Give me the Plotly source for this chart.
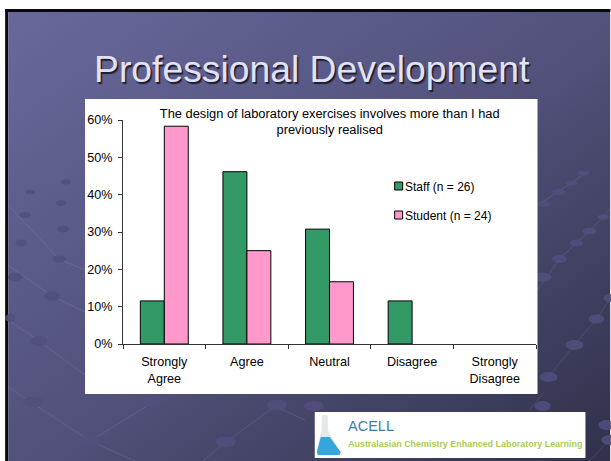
import base64
import plotly.graph_objects as go

# ---- data ----
categories = ["Strongly<br>Agree", "Agree", "Neutral", "Disagree", "Strongly<br>Disagree"]
staff_pct = [11.54, 46.15, 30.77, 11.54, 0]
student_pct = [58.33, 25, 16.67, 0, 0]
staff_name = "Staff (n = 26)"
student_name = "Student (n = 24)"
y_ticks = [0, 10, 20, 30, 40, 50, 60]
y_labels = ["0%", "10%", "20%", "30%", "40%", "50%", "60%"]
slide_title = "Professional Development"
chart_title = "The design of laboratory exercises involves more than I had<br>previously realised"
logo_name = "ACELL"
logo_sub = "Australasian Chemistry Enhanced Laboratory Learning"

W, H = 611, 461
L, R, T, B = 123.0, 536.5, 120.0, 344.0
GREEN, PINK = "#339966", "#FF99CC"
FONT = "Liberation Sans, Arial, sans-serif"

def X(px):
    return (px - L) / (R - L)

def Y(py):
    return (B - py) / (B - T)

shapes, annos = [], []

def rect(x0, y0, x1, y1, fill, line=None, layer="below"):
    shapes.append(dict(type="rect", xref="paper", yref="paper", x0=X(x0), x1=X(x1), y0=Y(y0), y1=Y(y1),
                       fillcolor=fill, line=dict(color=line or fill, width=1 if line else 0), layer=layer))

def text(px, py, s, size, color, anchor="left", family=FONT, shadow=None, weight=None):
    f = dict(size=size, color=color, family=family)
    if shadow:
        f["shadow"] = shadow
    if weight:
        f["weight"] = weight
    annos.append(dict(xref="paper", yref="paper", x=X(px), y=Y(py), text=s, showarrow=False, xanchor=anchor,
                      yanchor="middle", font=f, borderpad=0, borderwidth=0))

# slide frame (left and top edges)
rect(5, 9, 8, 461, "#08080f")
rect(5, 9, 611, 12, "#08080f")

# decorative background network
net_lines = [
    [(8, 387), (90, 441), (135, 461)], [(152, 403), (90, 441)], [(277, 405), (226, 442), (203, 461)],
    [(277, 407), (305, 420)], [(549, 377), (575, 345), (597, 319), (611, 298)],
    [(538, 290), (560, 259), (577, 243), (590, 231), (604, 217), (611, 208)], [(538, 205), (572, 183), (590, 170)],
    [(8, 320), (39, 341), (85, 375)], [(8, 265), (52, 296), (85, 312)], [(8, 205), (59, 259), (85, 270)],
    [(544, 393), (530, 410)], [(610, 440), (590, 461)],
]
for ln in net_lines:
    d = "M" + "L".join(f"{X(a):.5f},{Y(b):.5f}" for a, b in ln)
    shapes.append(dict(type="path", xref="paper", yref="paper", path=d, layer="below",
                       line=dict(color="rgba(200,200,235,0.13)", width=1)))

dots = [
    (33, 402, 10, 5.5), (152, 402, 10, 5.5), (277, 405, 10, 5.5), (90, 441, 10, 5.5), (226, 442, 10, 5.5),
    (314, 406, 10, 5), (543, 406, 8, 5), (607, 425, 8, 5), (584, 173, 6, 2.5), (572, 183, 6, 2.5), (559, 192, 6.5, 3),
    (544, 204, 7, 3), (604, 217, 6, 3), (590, 231, 7, 3.5), (577, 243, 7, 3.5), (560, 259, 7.5, 4), (543, 277, 9, 4.5),
    (610, 298, 6, 4), (597, 319, 8, 4.5), (575, 345, 9, 5), (549, 377, 9, 5), (610, 440, 8, 5),
    (39, 341, 8, 5), (52, 296, 8, 4.5), (15, 277, 7, 4.5), (59, 259, 7, 3.5), (21, 243, 6, 3.5), (63, 229, 6, 3.5),
    (25, 215, 6, 3), (61, 203, 5, 3), (30, 192, 5, 2.5), (66, 182, 5, 2.5), (10, 318, 5, 4),
]
for cx, cy, rx, ry in dots:
    shapes.append(dict(type="circle", xref="paper", yref="paper", x0=X(cx - rx), x1=X(cx + rx), y0=Y(cy + ry), y1=Y(cy - ry),
                       fillcolor="#50507e", opacity=0.85, line=dict(width=0), layer="below"))

# chart panel and logo panel
rect(85, 99, 538, 394, "#ffffff")
rect(315, 412, 586, 458, "#ffffff")

# flask in logo
def poly(points, fill):
    d = "M" + "L".join(f"{X(a):.5f},{Y(b):.5f}" for a, b in points) + "Z"
    shapes.append(dict(type="path", xref="paper", yref="paper", path=d, fillcolor=fill, line=dict(width=0), layer="below"))

poly([(322, 415), (328, 415), (328, 430), (337, 446), (318, 446), (322, 430)], "#e3e8e8")
poly([(321, 437), (330, 437), (341, 452), (340, 455), (318, 455), (317, 452)], "#35a6dc")

# background gradient
svg = ('<svg xmlns="http://www.w3.org/2000/svg" width="603" height="449" preserveAspectRatio="none">'
       '<defs><linearGradient id="g" x1="0" y1="0" x2="1" y2="1">'
       '<stop offset="0" stop-color="#68689c"/><stop offset="0.5" stop-color="#52527c"/>'
       '<stop offset="1" stop-color="#31314b"/></linearGradient></defs>'
       '<rect width="603" height="449" fill="url(#g)"/></svg>')
bg = "data:image/svg+xml;base64," + base64.b64encode(svg.encode()).decode()

# slide title + logo text
text(312, 69, slide_title, 37.3, "#e2e2f4", "center", shadow="1.5px 1.5px 1px #1c1c30")
text(348, 426, logo_name, 14.5, "#3f7ea6")
text(348, 444, logo_sub, 8.95, "#a9cb55", weight=700)

# legend
rect(395, 182, 403, 190, GREEN, "#000000", "above")
rect(395, 211, 403, 219, PINK, "#000000", "above")
text(405, 186.5, staff_name, 12, "#000000")
text(405, 216, student_name, 12, "#000000")

fig = go.Figure()
fig.add_bar(x=categories, y=staff_pct, name=staff_name,
            marker=dict(color=GREEN, line=dict(color="#000000", width=[1 if v else 0 for v in staff_pct])))
fig.add_bar(x=categories, y=student_pct, name=student_name,
            marker=dict(color=PINK, line=dict(color="#000000", width=[1 if v else 0 for v in student_pct])))

fig.update_layout(
    width=W, height=H, autosize=False, showlegend=False, barmode="group", bargap=0.42, bargroupgap=0,
    margin=dict(l=L, r=W - R, t=T, b=H - B, pad=0),
    paper_bgcolor="#ffffff", plot_bgcolor="rgba(0,0,0,0)",
    font=dict(family=FONT, size=12.6, color="#000000"),
    title=dict(text=chart_title, x=X(330), xanchor="center", xref="paper", y=1 - 117.5 / H, yanchor="middle",
               font=dict(family=FONT, size=12.85, color="#000000")),
    xaxis=dict(showgrid=False, showline=True, linecolor="#333333", linewidth=1, ticks="outside", ticklen=4,
               tickcolor="#333333", tickson="boundaries", tickfont=dict(size=12.6), zeroline=False, fixedrange=True,
               ticklabelstandoff=6),
    yaxis=dict(range=[0, 60], tickvals=y_ticks, ticktext=y_labels, showgrid=False, showline=True, linecolor="#333333",
               linewidth=1, ticks="outside", ticklen=4, tickcolor="#333333", zeroline=False, tickfont=dict(size=12.6),
               fixedrange=True, ticklabelstandoff=3),
    shapes=shapes, annotations=annos,
    images=[dict(source=bg, xref="paper", yref="paper", x=X(8), y=Y(12), sizex=X(611) - X(8), sizey=Y(12) - Y(461),
                 xanchor="left", yanchor="top", sizing="stretch", layer="below")],
)
fig.write_html("out.html", post_script="document.body.style.margin='0';", config=dict(displayModeBar=False))
